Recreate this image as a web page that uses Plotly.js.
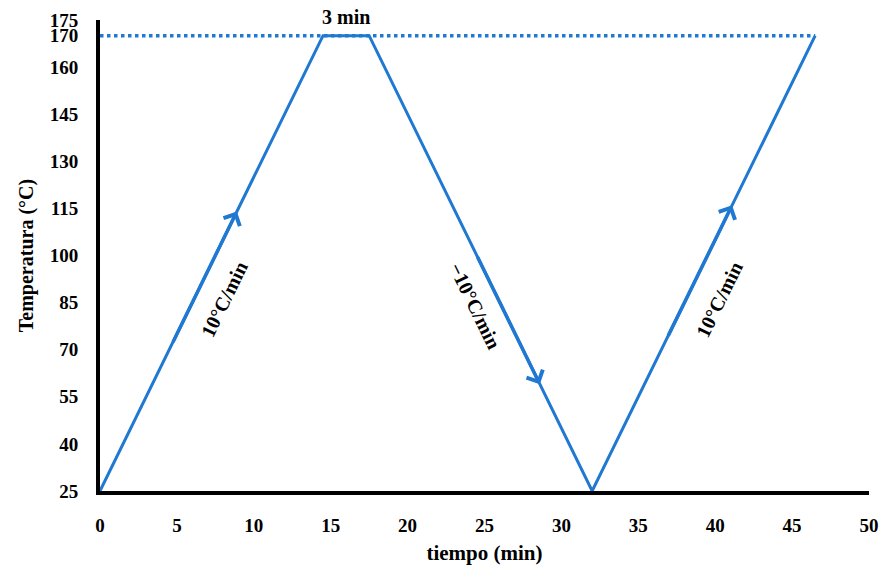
<!DOCTYPE html>
<html>
<head>
<meta charset="utf-8">
<script src="https://cdn.plot.ly/plotly-3.0.1.min.js"></script>
<style>html,body{margin:0;padding:0;background:#fff;}#chart{width:881px;height:566px;}</style>
</head>
<body>
<div id="chart"></div>
<script>
// Temperature program
const timeMin = [0, 14.5, 17.5, 32, 46.5];
const tempC = [25, 170, 170, 25, 170];
// Reference (dotted) line at 170 °C
const refX = [0, 46.5];
const refY = [170, 170];
// Rate arrows: tail -> head
const arrowTailX = [4.7, 24.5, 36.9];
const arrowTailY = [72, 100, 74];
const arrowHeadX = [8.9, 28.6, 41.1];
const arrowHeadY = [114, 59, 116];
// Rate labels
const rateLabels = ['10°C/min', '−10°C/min', '10°C/min'];
const rateLabelX = [8.1, 24.4, 40.3];
const rateLabelY = [86, 84, 86];
const rateLabelAngle = [-64, 64, -64];
// Hold label
const holdLabel = '3 min';
const holdX = 16;
const holdY = 170;
// Ticks
const yTicks = [25, 40, 55, 70, 85, 100, 115, 130, 145, 160, 170, 175];
const xTicks = [0, 5, 10, 15, 20, 25, 30, 35, 40, 45, 50];

const blue = '#1f78d1';
const font = 'Liberation Serif, Times New Roman, serif';

const traces = [
  {x: refX, y: refY, mode: 'lines', line: {color: blue, width: 3.5, dash: 'dot'}, hoverinfo: 'skip', cliponaxis: false},
  {x: timeMin, y: tempC, mode: 'lines', line: {color: blue, width: 3}, hoverinfo: 'skip', cliponaxis: false}
];

const annotations = [];
for (let i = 0; i < arrowTailX.length; i++) {
  annotations.push({
    x: arrowHeadX[i], y: arrowHeadY[i], xref: 'x', yref: 'y',
    ax: arrowTailX[i], ay: arrowTailY[i], axref: 'x', ayref: 'y',
    text: '', showarrow: true, arrowhead: 4, arrowsize: 1.0, arrowwidth: 3.5,
    arrowcolor: blue, standoff: 0, startstandoff: 0
  });
  annotations.push({
    x: rateLabelX[i], y: rateLabelY[i], xref: 'x', yref: 'y',
    text: '<b>' + rateLabels[i] + '</b>', showarrow: false,
    textangle: rateLabelAngle[i], font: {family: font, size: 20, color: '#000'}
  });
}
annotations.push({
  x: holdX, y: holdY, xref: 'x', yref: 'y', text: '<b>' + holdLabel + '</b>',
  showarrow: false, yanchor: 'bottom', yshift: 6, font: {family: font, size: 20, color: '#000'}
});

const layout = {
  width: 881, height: 566,
  margin: {l: 100, r: 12, t: 20, b: 75},
  paper_bgcolor: '#fff', plot_bgcolor: '#fff',
  showlegend: false,
  xaxis: {
    range: [0, 50], tickvals: xTicks, ticktext: xTicks.map(v => '<b>' + v + '</b>'),
    showgrid: false, zeroline: false, showline: true, linecolor: '#000', linewidth: 4,
    ticks: '', ticklabelstandoff: 14,
    tickfont: {family: font, size: 19, color: '#000'},
    title: {text: '<b>tiempo (min)</b>', font: {family: font, size: 21, color: '#000'}, standoff: 12}
  },
  yaxis: {
    range: [25, 175], tickvals: yTicks, ticktext: yTicks.map(v => '<b>' + v + '</b>'),
    showgrid: false, zeroline: false, showline: true, linecolor: '#000', linewidth: 4,
    ticks: '', ticklabelstandoff: 14,
    tickfont: {family: font, size: 19, color: '#000'},
    title: {text: '<b>Temperatura (°C)</b>', font: {family: font, size: 20, color: '#000'}, standoff: 12}
  },
  annotations: annotations
};

Plotly.newPlot('chart', traces, layout, {displayModeBar: false, staticPlot: true});
</script>
</body>
</html>
